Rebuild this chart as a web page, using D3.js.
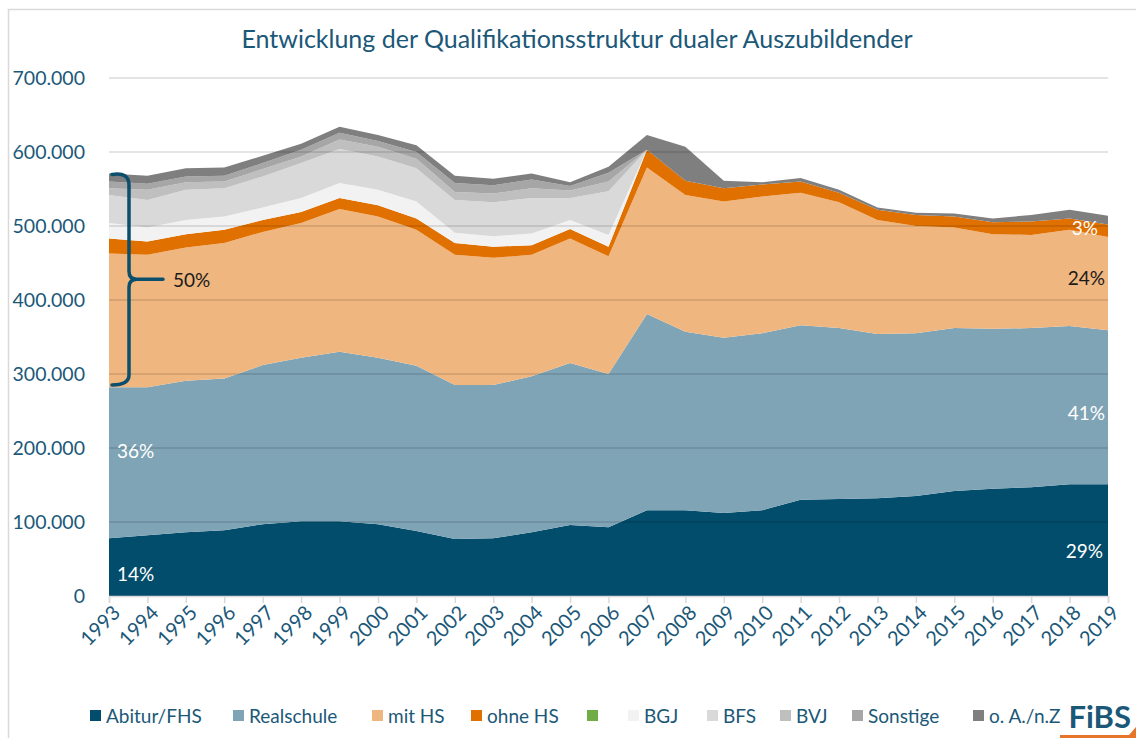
<!DOCTYPE html>
<html>
<head>
<meta charset="utf-8">
<script src="https://cdn.jsdelivr.net/npm/d3@7"></script>
<style>
  body { margin: 0; background: #fff; }
  svg { display: block; font-family: Lato, "Open Sans", sans-serif; }
</style>
</head>
<body>
<svg id="chart" width="1136" height="738"></svg>
<script>
// values in thousand apprentices
const years = d3.range(1993, 2020)
const abitur = [78, 82, 86, 89, 97, 101, 101, 97, 88, 77, 78, 86, 96, 93, 116, 116, 112, 116, 130, 131, 132, 135, 142, 145, 147, 151, 151]
const realschule = [204, 200, 205, 205, 215, 221, 229, 225, 223, 208, 207, 211, 219, 207, 265, 241, 237, 239, 236, 231, 222, 220, 220, 216, 215, 214, 208]
const mitHS = [181, 179, 180, 183, 180, 182, 193, 191, 184, 176, 172, 164, 168, 159, 198, 185, 184, 185, 179, 170, 154, 145, 136, 128, 126, 130, 126]
const ohneHS = [20, 18, 18, 18, 16, 15, 15, 15, 15, 16, 15, 13, 13, 13, 24, 19, 18, 16, 15, 13, 14, 15, 15, 16, 18, 15, 17]
const unnamed = [0, 0, 0, 0, 0, 0, 0, 0, 0, 0, 0, 0, 0, 0, 0, 0, 0, 0, 0, 0, 0, 0, 0, 0, 0, 0, 0]
const bgj = [21, 19, 19, 18, 17, 19, 20, 21, 23, 14, 14, 16, 12, 16, 0, 0, 0, 0, 0, 0, 0, 0, 0, 0, 0, 0, 0]
const bfs = [38, 37, 41, 38, 42, 47, 46, 45, 45, 44, 46, 48, 30, 59, 0, 0, 0, 0, 0, 0, 0, 0, 0, 0, 0, 0, 0]
const bvj = [9, 14, 10, 9, 10, 9, 13, 13, 13, 11, 12, 13, 10, 13, 0, 0, 0, 0, 0, 0, 0, 0, 0, 0, 0, 0, 0]
const sonstige = [9, 8, 8, 8, 8, 9, 9, 8, 9, 12, 11, 12, 6, 12, 0, 0, 0, 0, 0, 0, 0, 0, 0, 0, 0, 0, 0]
const ohneAngabe = [11, 11, 11, 11, 10, 8, 8, 8, 9, 10, 9, 8, 5, 8, 20, 46, 10, 3, 5, 4, 3, 3, 4, 5, 9, 12, 12]

const seriesNames = ['Abitur/FHS', 'Realschule', 'mit HS', 'ohne HS', '', 'BGJ', 'BFS', 'BVJ', 'Sonstige', 'o. A./n.Z']
const seriesValues = [abitur, realschule, mitHS, ohneHS, unnamed, bgj, bfs, bvj, sonstige, ohneAngabe]
const seriesColors = ['#034d6c', '#7fa4b6', '#f0b67f', '#e07000', '#70ad47', '#f2f2f2', '#d9d9d9', '#bfbfbf', '#a6a6a6', '#7f7f7f']
const yTicks = [0, 100000, 200000, 300000, 400000, 500000, 600000, 700000]

const textColor = '#1b5878'

let table = years.map((yr, i) => {
  let row = { year: yr }
  seriesNames.forEach((name, k) => { row[k] = seriesValues[k][i] * 1000 })
  return row
})

const svg = d3.select('#chart')
const de = d3.formatLocale({ decimal: ',', thousands: '.', grouping: [3], currency: ['', ' €'] })

const x = d3.scaleLinear().domain([1993, 2019]).range([109, 1108])
const y = d3.scaleLinear().domain([0, 700000]).range([596, 78])

// frame
svg.append('rect')
  .attr('x', 8.5).attr('y', 9.5)
  .attr('width', 1140).attr('height', 760)
  .attr('fill', 'none').attr('stroke', '#d9d9d9').attr('stroke-width', 1.5)

svg.append('text')
  .attr('x', 577).attr('y', 48)
  .attr('text-anchor', 'middle')
  .attr('font-size', 25)
  .attr('fill', textColor)
  .text('Entwicklung der Qualifikationsstruktur dualer Auszubildender')

let stacked = d3.stack().keys(d3.range(seriesNames.length))(table)

let area = d3.area()
  .x(d => x(d.data.year))
  .y0(d => y(d[0]))
  .y1(d => y(d[1]))

svg.append('g')
  .selectAll('path')
  .data(stacked)
  .enter()
  .append('path')
  .attr('fill', (d, i) => seriesColors[i])
  .attr('d', area)

// gridlines above the areas, as in the original
svg.append('g')
  .selectAll('line')
  .data(yTicks.slice(1))
  .enter()
  .append('line')
  .attr('x1', x(1993)).attr('x2', x(2019))
  .attr('y1', d => y(d)).attr('y2', d => y(d))
  .attr('stroke', '#000').attr('stroke-opacity', 0.14).attr('stroke-width', 1.5)

// y axis labels
let yAxis = svg.append('g')
  .attr('transform', `translate(${x(1993) - 21},0)`)
  .call(d3.axisLeft(y).tickValues(yTicks).tickFormat(de.format(',')).tickSize(0))
yAxis.select('.domain').remove()
yAxis.selectAll('text')
  .attr('font-family', 'Lato, sans-serif')
  .attr('font-size', 19.5)
  .attr('fill', textColor)

// x axis
let xAxis = svg.append('g')
  .attr('transform', `translate(0,${y(0)})`)
  .call(d3.axisBottom(x).tickValues(years).tickFormat(d => d).tickSize(7))
xAxis.select('.domain').attr('stroke', '#d9d9d9').attr('stroke-width', 1.5)
xAxis.selectAll('line').attr('stroke', '#d9d9d9').attr('stroke-width', 1.5)
xAxis.selectAll('text')
  .attr('font-family', 'Lato, sans-serif')
  .attr('font-size', 20)
  .attr('fill', textColor)
  .attr('text-anchor', 'end')
  .attr('dy', 0)
  .attr('transform', 'translate(5,11) rotate(-45)')

// percent labels
function pctLabel(text, year, value, anchor, color, dx) {
  svg.append('text')
    .attr('x', x(year) + dx)
    .attr('y', y(value))
    .attr('text-anchor', anchor)
    .attr('font-size', 19)
    .attr('fill', color)
    .text(text)
}
pctLabel('14%', 1993, 20000, 'start', '#fff', 8)
pctLabel('36%', 1993, 186000, 'start', '#fff', 8)
pctLabel('50%', 1993, 418000, 'start', '#1a1a1a', 64)
pctLabel('29%', 2019, 51000, 'end', '#fff', -5)
pctLabel('41%', 2019, 238000, 'end', '#fff', -3)
pctLabel('24%', 2019, 420000, 'end', '#1a1a1a', -3)
pctLabel('3%', 2019, 488000, 'end', '#fff', -10)

// curly brace over the non-Realschule share in 1993
let bTop = y(571000), bBot = y(285000), bMid = (bTop + bBot) / 2
let bx = x(1993) + 20, bl = x(1993) + 3
let brace = d3.path()
brace.moveTo(bl, bTop + 1)
brace.quadraticCurveTo(bx, bTop - 2, bx, bTop + 12)
brace.lineTo(bx, bMid - 8)
brace.quadraticCurveTo(bx, bMid, bx + 8, bMid)
brace.lineTo(bx + 34, bMid)
brace.moveTo(bx + 8, bMid)
brace.quadraticCurveTo(bx, bMid, bx, bMid + 8)
brace.lineTo(bx, bBot - 10)
brace.quadraticCurveTo(bx, bBot, bl, bBot)
svg.append('path')
  .attr('d', brace.toString())
  .attr('fill', 'none')
  .attr('stroke', '#0b4f6c')
  .attr('stroke-width', 3.5)
  .attr('stroke-linecap', 'round')

// legend
const legendX = [90, 233, 372, 471, 587, 628, 707, 780, 852, 973]
let legend = svg.append('g')
  .selectAll('g')
  .data(seriesNames)
  .enter()
  .append('g')
  .attr('transform', (d, i) => `translate(${legendX[i]}, 716)`)

legend.append('rect')
  .attr('x', 0).attr('y', -6)
  .attr('width', 11).attr('height', 11)
  .attr('fill', (d, i) => seriesColors[i])

legend.append('text')
  .attr('x', 16).attr('y', 7)
  .attr('font-size', 19)
  .attr('fill', textColor)
  .text(d => d)

// FiBS logo
svg.append('text')
  .attr('x', 1131).attr('y', 728)
  .attr('text-anchor', 'end')
  .attr('font-size', 31)
  .attr('font-weight', 'bold')
  .attr('fill', textColor)
  .text('FiBS')
svg.append('path')
  .attr('d', 'M1060,735 L1129,735 L1136,727 L1136,738 L1060,738 Z')
  .attr('fill', '#e8742a')
</script>
</body>
</html>
